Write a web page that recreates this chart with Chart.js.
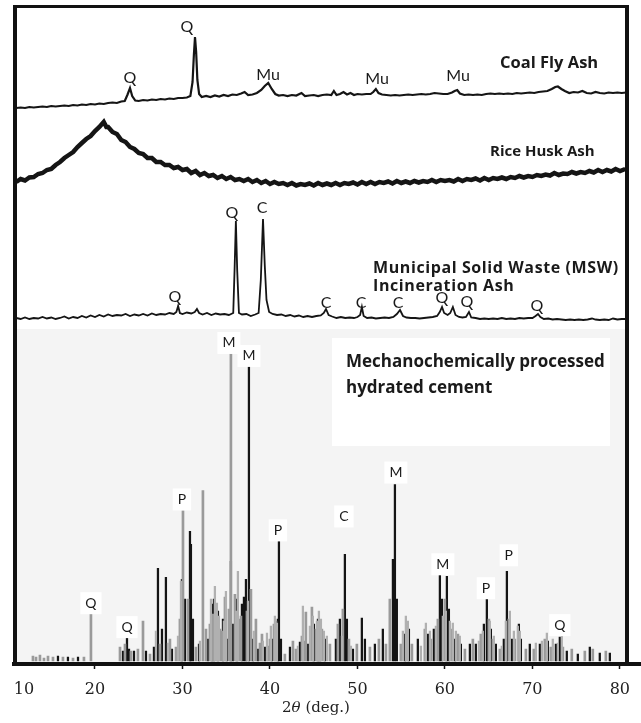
<!DOCTYPE html>
<html>
<head>
<meta charset="utf-8">
<script src="https://cdn.jsdelivr.net/npm/chart.js@4.4.0/dist/chart.umd.min.js"></script>
<style>
  body { margin: 0; background: #fff; }
  #wrap { position: relative; width: 641px; height: 723px; overflow: hidden; }
  canvas { position: absolute; left: 0; }
  .frame { position: absolute; background: #111; }
  .title { position: absolute; font-family: 'Open Sans', sans-serif; font-weight: 700; color: #1a1a1a; white-space: nowrap; }
  #xtitle { position: absolute; left: 246px; top: 698px; width: 140px; text-align: center; font-family: 'DejaVu Serif', serif; font-size: 15px; color: #222; }
</style>
</head>
<body>
<div id="wrap">
  <div style="position:absolute;left:17px;top:329px;width:608px;height:336px;background:#f4f4f4"></div>
  <div style="position:absolute;left:332px;top:338px;width:278px;height:108px;background:#fff"></div>
  <canvas id="cementChart" width="641" height="393" style="top:330px"></canvas>
  <canvas id="mswChart" width="641" height="135" style="top:195px"></canvas>
  <canvas id="riceChart" width="641" height="105" style="top:110px"></canvas>
  <canvas id="coalChart" width="641" height="130" style="top:0px"></canvas>

  <div class="frame" style="left:13px;top:5px;width:4px;height:661px"></div>
  <div class="frame" style="left:13px;top:5px;width:616px;height:3px"></div>
  <div class="frame" style="left:625px;top:5px;width:4px;height:661px"></div>

  <div class="title" style="left:500px;top:52px;font-size:16.5px;line-height:20px">Coal Fly Ash</div>
  <div class="title" style="left:490px;top:140px;font-size:15px;line-height:20px">Rice Husk Ash</div>
  <div class="title" style="left:373px;top:258px;font-size:16px;line-height:18px;letter-spacing:0.6px">Municipal Solid Waste (MSW)<br>Incineration Ash</div>
  <div class="title" style="left:346px;top:348px;font-size:17px;line-height:26px">Mechanochemically processed<br>hydrated cement</div>
  <div id="xtitle">2<i>θ</i> (deg.)</div>
</div>

<script>
// x-as: 2theta (graden), gedeeld door alle panelen
const xMin = 10.743;
const xMax = 82.4;
const xTickValues = [11.886, 20, 30, 40, 50, 60, 70, 80];
const xTickLabels = ['10', '20', '30', '40', '50', '60', '70', '80'];

// Coal Fly Ash
const coalTheta = [11.0, 11.5, 12.0, 12.5, 13.0, 13.5, 14.0, 14.5, 15.0, 15.5, 16.0, 16.5, 17.0, 17.5, 18.0, 18.5, 19.0, 19.5, 20.0, 20.5,
  21.0, 21.5, 22.0, 22.5, 23.0, 23.4, 23.7, 24.0, 24.25, 24.6, 25.0, 25.5, 26.0, 26.5, 27.0, 27.5, 28.0, 28.5, 29.0, 29.5,
  30.0, 30.5, 30.9, 31.15, 31.3, 31.43, 31.56, 31.7, 31.9, 32.2, 32.7, 33.2, 33.7, 34.2, 34.7, 35.2, 35.7, 36.2, 36.7, 37.1,
  37.5, 38.0, 38.5, 39.0, 39.4, 39.8, 40.2, 40.6, 41.0, 41.5, 42.0, 42.5, 43.0, 43.6, 44.0, 44.5, 45.0, 45.5, 46.0, 46.5,
  47.0, 47.3, 47.6, 48.0, 48.4, 48.8, 49.2, 49.6, 50.0, 50.5, 51.0, 51.5, 51.8, 52.1, 52.4, 52.8, 53.3, 53.8, 54.3, 54.8,
  55.3, 55.8, 56.3, 56.8, 57.3, 57.8, 58.3, 58.8, 59.3, 59.8, 60.3, 60.8, 61.1, 61.4, 61.7, 62.2, 62.7, 63.2, 63.7, 64.2,
  64.7, 65.2, 65.7, 66.2, 66.7, 67.2, 67.7, 68.2, 68.7, 69.2, 69.7, 70.2, 70.7, 71.2, 71.7, 72.2, 72.6, 72.9, 73.3, 73.7,
  74.2, 74.7, 75.2, 75.7, 76.2, 76.7, 77.2, 77.7, 78.2, 78.7, 79.2, 79.7, 80.2, 80.7];
const coalIntensity = [22, 22.5, 22, 23, 22.5, 23, 23.5, 23, 24, 23.5, 24, 24.5, 24, 25, 24.5, 25.5, 25, 26, 25.5, 26.5,
  26, 27, 27.5, 27, 28.5, 29, 35, 42, 34, 29.5, 29, 30, 29.5, 30.5, 30, 31, 30.5, 31.5, 31, 32,
  32, 32.5, 34, 48, 75, 93, 78, 50, 36, 33, 34, 33, 34.5, 33.5, 35, 34, 35.5, 35, 36.5, 38,
  35, 35.5, 37, 40, 44, 47, 41, 36, 34.5, 35, 34, 35, 34.5, 37, 34, 34.5, 35, 34, 35, 35.5,
  35, 39, 35, 36, 38, 35.5, 37, 35, 36, 35.5, 36, 36, 38, 41, 37, 35.5, 35, 34.5, 35, 34.5,
  35, 35.5, 35, 35.5, 36, 35.5, 36, 37, 36.5, 36, 36, 37.5, 39, 40, 36.5, 35, 35.5, 35, 35.5, 35,
  36, 36.5, 36, 36.5, 36, 36.5, 36, 37, 36.5, 37, 37.5, 37, 38, 38.5, 39, 41, 43, 43.5, 41, 39,
  37, 38, 37.5, 39, 37, 36.5, 38, 37, 36.5, 37.5, 37, 37.5, 37, 37.5];
const coalPeaks = [['Q', 24.0, 52], ['Q', 30.5, 103], ['Mu', 39.77, 55], ['Mu', 52.23, 51], ['Mu', 61.49, 54]];

// Rice Husk Ash
const riceTheta = [11.0, 11.5, 12.0, 12.5, 13.0, 13.5, 14.0, 14.5, 15.0, 15.5, 16.0, 16.5, 17.0, 17.5, 18.0, 18.5, 19.0, 19.5, 20.0, 20.5,
  21.0, 21.3, 21.5, 22.0, 22.5, 23.0, 23.5, 24.0, 24.5, 25.0, 25.5, 26.0, 26.5, 27.0, 27.5, 28.0, 28.5, 29.0, 29.5, 30.0,
  30.5, 31.0, 31.5, 32.0, 32.5, 33.0, 33.5, 34.0, 34.5, 35.0, 35.5, 36.0, 36.5, 37.0, 37.5, 38.0, 38.5, 39.0, 39.5, 40.0,
  40.5, 41.0, 41.5, 42.0, 42.5, 43.0, 43.5, 44.0, 44.5, 45.0, 45.5, 46.0, 46.5, 47.0, 47.5, 48.0, 48.5, 49.0, 49.5, 50.0,
  50.5, 51.0, 51.5, 52.0, 52.5, 53.0, 53.5, 54.0, 54.5, 55.0, 55.5, 56.0, 56.5, 57.0, 57.5, 58.0, 58.5, 59.0, 59.5, 60.0,
  60.5, 61.0, 61.5, 62.0, 62.5, 63.0, 63.5, 64.0, 64.5, 65.0, 65.5, 66.0, 66.5, 67.0, 67.5, 68.0, 68.5, 69.0, 69.5, 70.0,
  70.5, 71.0, 71.5, 72.0, 72.5, 73.0, 73.5, 74.0, 74.5, 75.0, 75.5, 76.0, 76.5, 77.0, 77.5, 78.0, 78.5, 79.0, 79.5, 80.0, 80.6];
const riceIntensity = [33, 36, 34.5, 37.5, 38, 41, 42, 45, 46, 50, 53, 57, 60, 63, 68, 72, 76, 79, 84, 88,
  93, 88, 88, 83, 81, 75, 73, 68, 66, 62, 61, 57, 57, 53, 53, 50, 50, 47, 48, 45,
  46, 42, 44, 40, 42, 39, 40, 37, 39, 36, 38, 35, 36, 34, 36, 33, 35, 32, 34, 31,
  33, 31, 32, 30, 32, 29.5, 31, 30, 31.5, 29.5, 32, 30, 31.5, 30, 32, 30, 32, 31, 32.5, 30.5,
  33, 31, 33, 31, 33, 32, 33.5, 31.5, 34, 32, 33.5, 32, 34, 32.5, 34, 33, 35, 33, 35, 34,
  35, 33.5, 36, 34, 36, 35, 36.5, 34.5, 37, 35, 37, 36, 37.5, 36, 38, 37, 39, 37.5, 39, 38,
  40, 39, 40.5, 39.5, 42, 40, 41.5, 41, 43, 41.5, 43, 42, 44, 42.5, 45, 43, 45, 43.5, 46, 44, 46];

// MSW Incineration Ash
const mswTheta = [11.0, 11.5, 12.0, 12.5, 13.0, 13.5, 14.0, 14.5, 15.0, 15.5, 16.0, 16.5, 17.0, 17.5, 18.0, 18.5, 19.0, 19.5, 20.0, 20.5,
  21.0, 21.5, 22.0, 22.5, 23.0, 23.5, 24.0, 24.5, 25.0, 25.5, 26.0, 26.5, 27.0, 27.5, 28.0, 28.5, 29.0, 29.3, 29.5, 29.7,
  30.0, 30.5, 31.0, 31.4, 31.65, 31.9, 32.3, 32.8, 33.3, 33.8, 34.3, 34.8, 35.3, 35.8, 35.95, 36.1, 36.25, 36.45, 36.8, 37.3,
  37.8, 38.3, 38.7, 38.95, 39.2, 39.4, 39.6, 39.9, 40.3, 40.8, 41.3, 41.8, 42.3, 42.8, 43.3, 43.8, 44.3, 44.8, 45.3, 45.8,
  46.15, 46.4, 46.7, 47.1, 47.6, 48.1, 48.6, 49.1, 49.6, 50.0, 50.3, 50.5, 50.7, 51.1, 51.6, 52.1, 52.6, 53.1, 53.6, 54.1,
  54.5, 54.86, 55.2, 55.6, 56.1, 56.6, 57.1, 57.6, 58.1, 58.6, 59.1, 59.4, 59.66, 59.9, 60.3, 60.6, 60.9, 61.2, 61.6, 62.0,
  62.4, 62.74, 63.0, 63.5, 64.0, 64.5, 65.0, 65.5, 66.0, 66.5, 67.0, 67.5, 68.0, 68.5, 69.0, 69.5, 70.0, 70.35, 70.63, 70.9,
  71.3, 71.8, 72.3, 72.8, 73.3, 73.8, 74.3, 74.8, 75.3, 75.8, 76.3, 76.8, 77.2, 77.7, 78.2, 78.7, 79.2, 79.7, 80.2, 80.7];
const mswIntensity = [12, 11, 12.5, 11, 12, 11.5, 13, 11.5, 12.5, 11, 12, 13.5, 11.5, 13, 12, 14, 12.5, 14.5, 13, 15,
  13.5, 15.5, 14, 15, 14.5, 16, 14, 15.5, 14.5, 16, 14.5, 16.5, 15, 16, 15.5, 17, 16, 18, 24, 17,
  16, 17.5, 16.5, 18, 21, 17, 15.5, 17, 15, 16.5, 15.5, 16, 15, 17, 60, 109, 60, 17, 15.5, 16,
  14, 15.5, 17, 50, 111, 65, 30, 18, 16, 15, 15.5, 14, 15, 13.5, 14.5, 13, 14, 13, 14, 14.5,
  17, 21, 15, 13.5, 12, 13, 12, 12.5, 12, 13, 15, 23, 14, 12, 12.5, 11.5, 12, 12.5, 12, 13,
  16, 20, 14, 12.5, 12, 12, 11.5, 12, 12.5, 13, 14, 18, 23, 17, 15, 17, 23, 15, 13, 12.5,
  13, 18, 12.5, 12, 11, 11.5, 11, 11.5, 11, 12, 11, 11.5, 11, 12, 11.5, 12, 12, 14, 16, 13,
  11, 11.5, 10.5, 11, 10.5, 10, 10.5, 10, 10.5, 10, 10.5, 11.5, 10.5, 10, 10.5, 10, 11.5, 10.5, 11, 11];
const mswPeaks = [['Q', 29.14, 33], ['Q', 35.66, 117], ['C', 39.09, 122], ['C', 46.4, 27], ['C', 50.4, 27], ['C', 54.63, 27],
  ['Q', 59.66, 32], ['Q', 62.51, 28], ['Q', 70.51, 24]];

// Mechanochemically processed hydrated cement (lijnen/sticks)
const cementGreyTheta = [12.91, 13.26, 13.71, 14.17, 14.63, 15.2, 16.34, 17.49, 18.74, 19.54,
  22.86, 23.43, 24.11, 24.91, 25.49, 26.29, 27.43, 28.57, 29.26, 29.71, 30.06, 30.63, 31.54, 32.34, 32.69,
  33.14, 33.49, 33.83, 34.29, 34.51, 34.86, 35.31, 35.54, 36.0, 36.46, 36.69, 37.37, 37.83, 38.4, 38.86, 39.09,
  39.77, 40.0, 40.46, 40.69, 41.71, 42.63, 42.97, 43.66, 43.89, 44.11, 44.8, 45.26, 45.94, 46.86, 47.77, 48.34,
  49.03, 49.94, 51.43, 52.46, 53.26, 53.71, 54.97, 55.66, 56.23, 57.71, 58.4, 59.2, 60.0, 60.8, 61.49, 62.29,
  63.2, 64.11, 65.03, 65.49, 66.29, 67.31, 68.0, 69.26, 70.17, 71.43, 72.11, 73.49, 74.51, 76.0, 76.91, 78.4];
const cementGreyHeight = [5, 4, 6, 3, 5, 4, 4, 3, 4, 49,
  14, 17, 10, 12, 40, 7, 17, 22, 14, 42, 151, 62, 14, 171, 32,
  37, 47, 54, 32, 30, 64, 52, 309, 67, 42, 45, 50, 72, 42, 18, 27,
  15, 22, 37, 40, 7, 20, 12, 25, 20, 49, 54, 32, 32, 17, 37, 52,
  22, 17, 14, 22, 17, 62, 17, 37, 17, 32, 22, 42, 62, 32, 27, 12,
  22, 27, 42, 22, 12, 42, 22, 12, 12, 22, 14, 14, 12, 10, 12, 10];
const cementMinorTheta = [26.97, 28.34, 29.49, 29.83, 32.0, 33.26, 33.71, 33.94, 34.17, 34.74, 34.97, 36.11, 36.34,
  37.49, 38.17, 39.2, 39.66, 40.11, 40.57, 40.8, 43.2, 43.77, 44.57, 44.91, 45.37, 45.6, 45.83, 46.17, 46.51,
  48.23, 49.26, 55.2, 55.54, 55.77, 57.26, 57.83, 58.29, 58.97, 59.77, 60.11, 60.57, 60.91, 61.26, 61.71,
  63.89, 64.34, 65.14, 65.6, 66.51, 66.97, 67.43, 67.89, 68.34, 68.57, 70.4, 71.09, 71.66, 72.34, 72.91, 73.37];
const cementMinorHeight = [30, 18, 25, 80, 20, 62, 75, 58, 45, 40, 70, 50, 90,
  60, 30, 20, 28, 35, 45, 38, 15, 55, 35, 45, 40, 50, 42, 30, 25,
  25, 15, 30, 45, 40, 15, 38, 30, 35, 45, 50, 40, 38, 30, 25,
  20, 30, 40, 25, 15, 40, 50, 30, 35, 30, 18, 20, 28, 22, 18, 25];
const cementBlackTheta = [15.77, 16.91, 18.06, 23.2, 23.66, 23.89, 24.46, 25.83, 26.74, 27.2, 27.66, 28.11, 28.8,
  29.94, 30.29, 30.86, 30.97, 31.2, 31.89, 32.91, 33.37, 33.6, 34.06, 34.63, 35.09, 35.54, 35.77, 36.23, 36.8,
  37.03, 37.26, 37.6, 38.06, 38.63, 39.43, 40.23, 40.91, 41.03, 41.26, 42.29, 43.43, 44.34, 45.03, 45.49, 45.71,
  46.29, 47.54, 48.0, 48.57, 48.8, 49.49, 50.51, 50.86, 52.0, 52.91, 54.06, 54.29, 54.51, 55.43, 55.89, 56.91,
  58.06, 58.74, 59.43, 59.66, 60.23, 60.46, 61.14, 61.83, 62.86, 63.54, 64.46, 64.8, 65.26, 65.83, 66.74, 67.09,
  67.66, 68.46, 68.69, 69.71, 70.86, 71.77, 72.69, 73.14, 73.94, 75.2, 76.57, 77.71, 78.86];
const cementBlackHeight = [5, 4, 4, 10, 25, 12, 10, 10, 14, 93, 32, 84, 12,
  82, 62, 130, 117, 42, 17, 22, 57, 62, 50, 42, 22, 100, 37, 62, 57,
  64, 82, 297, 22, 12, 14, 22, 42, 120, 22, 14, 19, 17, 37, 42, 37,
  22, 22, 42, 107, 42, 12, 43, 22, 17, 32, 102, 177, 62, 27, 32, 22,
  27, 32, 86, 62, 85, 52, 22, 17, 17, 17, 37, 63, 32, 17, 22, 90,
  22, 37, 22, 17, 17, 20, 17, 24, 10, 7, 14, 8, 8];
const cementPeaks = [['M', 35.31, 319], ['M', 37.6, 306], ['P', 29.94, 162], ['P', 40.91, 131], ['Q', 19.54, 58], ['Q', 23.66, 34],
  ['C', 48.46, 145], ['M', 54.4, 189], ['M', 59.77, 97], ['P', 64.69, 73], ['P', 67.31, 106], ['Q', 73.14, 36]];

// plugin: fase-labels (Q, Mu, C, M, P) op data-positie tekenen
const peakLabelPlugin = {
  id: 'peakLabels',
  afterDatasetsDraw(chart, args, opts) {
    if (!opts.items) return;
    const ctx = chart.ctx;
    ctx.save();
    ctx.font = opts.font;
    ctx.textAlign = 'center';
    ctx.textBaseline = 'middle';
    opts.items.forEach(([text, theta, h]) => {
      const x = chart.scales.x.getPixelForValue(theta);
      const y = chart.scales.y.getPixelForValue(h);
      if (opts.box) {
        const w = ctx.measureText(text).width + 10;
        ctx.fillStyle = '#fff';
        ctx.fillRect(x - w / 2, y - 11, w, 22);
      }
      ctx.fillStyle = '#1a1a1a';
      ctx.fillText(text, x, y);
    });
    ctx.restore();
  }
};

function toPoints(xs, ys) {
  return xs.map((x, i) => ({ x: x, y: ys[i] }));
}

function hiddenX() {
  return { type: 'linear', min: xMin, max: xMax, display: false };
}

// bovenste panelen: lijngrafiek zonder assen
function createTrace(canvasId, theta, values, yMax, width, peaks) {
  return new Chart(document.getElementById(canvasId), {
    type: 'line',
    data: { datasets: [{
      data: toPoints(theta, values),
      borderColor: '#151515',
      borderWidth: width,
      pointRadius: 0,
      tension: 0,
      fill: false
    }]},
    options: {
      responsive: false,
      animation: false,
      layout: { padding: { left: 14, right: 0, top: 0, bottom: 0 } },
      plugins: {
        legend: { display: false },
        tooltip: { enabled: false },
        peakLabels: { items: peaks, font: '16px Lato', box: false }
      },
      scales: {
        x: hiddenX(),
        y: { min: 0, max: yMax, display: false }
      }
    },
    plugins: [peakLabelPlugin]
  });
}

createTrace('coalChart', coalTheta, coalIntensity, 130, 2.2, coalPeaks);
createTrace('riceChart', riceTheta, riceIntensity, 105, 4.5, []);
createTrace('mswChart', mswTheta, mswIntensity, 135, 1.8, mswPeaks);

// onderste paneel: staafjes met zichtbare x-as
new Chart(document.getElementById('cementChart'), {
  type: 'bar',
  data: { datasets: [
    {
      data: toPoints(cementMinorTheta, cementMinorHeight),
      backgroundColor: '#b0b0b0',
      barThickness: 1.6,
      grouped: false
    },
    {
      data: toPoints(cementGreyTheta, cementGreyHeight),
      backgroundColor: '#9a9a9a',
      barThickness: 2,
      grouped: false
    },
    {
      data: toPoints(cementBlackTheta, cementBlackHeight),
      backgroundColor: '#141414',
      barThickness: 1.6,
      grouped: false
    }
  ]},
  options: {
    responsive: false,
    animation: false,
    layout: { padding: { left: 14, right: 0, top: 0, bottom: 12.8 } },
    plugins: {
      legend: { display: false },
      tooltip: { enabled: false },
      peakLabels: { items: cementPeaks, font: '14px Lato', box: true }
    },
    scales: {
      x: {
        type: 'linear',
        offset: false,
        min: xMin,
        max: xMax,
        afterBuildTicks: axis => { axis.ticks = xTickValues.map(v => ({ value: v })); },
        ticks: {
          autoSkip: false,
          maxRotation: 0,
          padding: 11,
          color: '#222',
          font: { family: 'DejaVu Serif', size: 16 },
          callback: (value, index) => xTickLabels[index]
        },
        grid: {
          offset: false,
          drawOnChartArea: false,
          drawTicks: true,
          tickLength: 5,
          tickWidth: 1.5,
          tickColor: ctx => (ctx.index === 0 ? 'rgba(0,0,0,0)' : '#111')
        },
        border: { display: true, color: '#111', width: 4 }
      },
      y: { min: -3, max: 332, display: false }
    }
  },
  plugins: [peakLabelPlugin]
});
</script>
</body>
</html>
